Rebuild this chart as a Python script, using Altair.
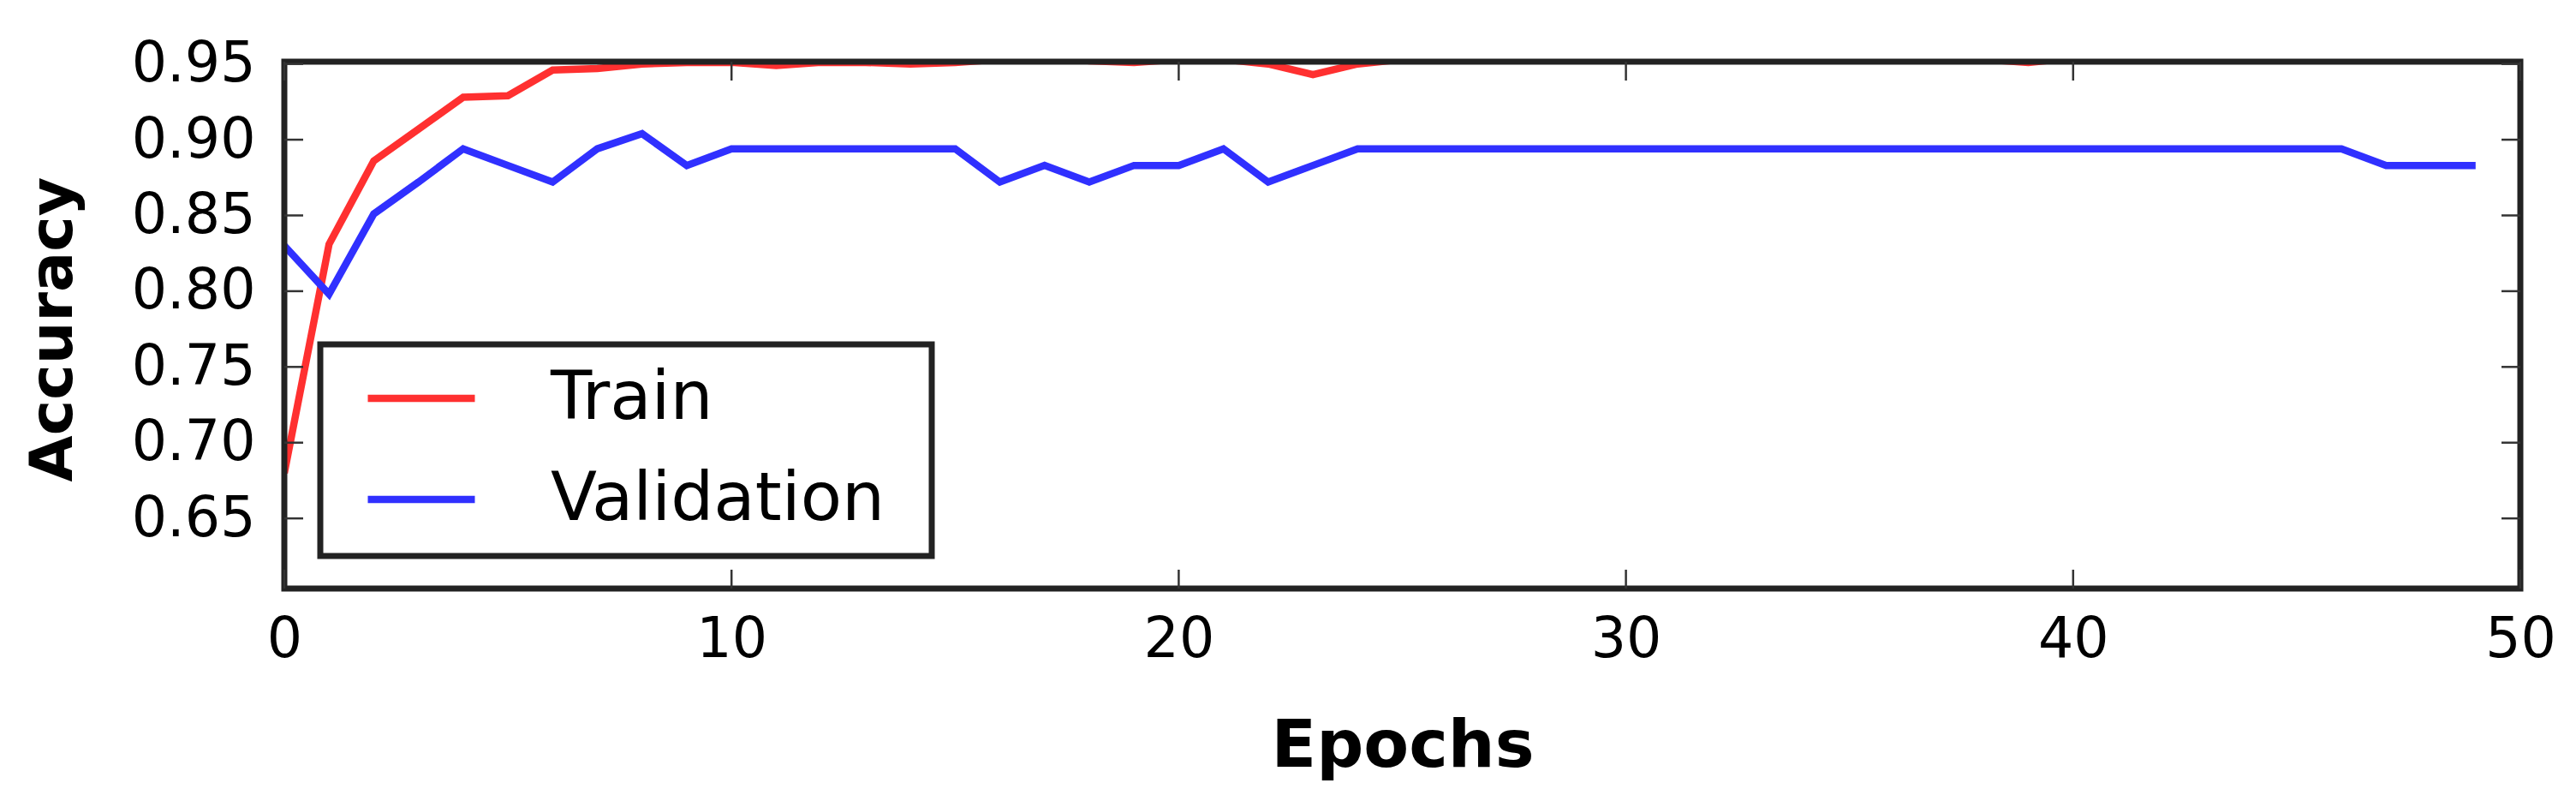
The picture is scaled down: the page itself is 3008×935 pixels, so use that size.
import altair as alt
import pandas as pd

# ---- data ----
epochs = [0, 1, 2, 3, 4, 5, 6, 7, 8, 9,
          10, 11, 12, 13, 14, 15, 16, 17, 18, 19,
          20, 21, 22, 23, 24, 25, 26, 27, 28, 29,
          30, 31, 32, 33, 34, 35, 36, 37, 38, 39,
          40, 41, 42, 43, 44, 45, 46, 47, 48, 49]
train_acc = [0.680, 0.831, 0.886, 0.907, 0.928, 0.929, 0.946, 0.947, 0.950, 0.951,
             0.951, 0.949, 0.951, 0.951, 0.950, 0.951, 0.953, 0.956, 0.952, 0.951,
             0.953, 0.953, 0.950, 0.943, 0.950, 0.953, 0.956, 0.956, 0.956, 0.956,
             0.956, 0.956, 0.956, 0.956, 0.956, 0.956, 0.956, 0.956, 0.953, 0.951,
             0.954, 0.956, 0.956, 0.956, 0.956, 0.956, 0.956, 0.956, 0.956, 0.956]
val_acc = [0.830, 0.798, 0.851, 0.872, 0.894, 0.883, 0.872, 0.894, 0.904, 0.883,
           0.894, 0.894, 0.894, 0.894, 0.894, 0.894, 0.872, 0.883, 0.872, 0.883,
           0.883, 0.894, 0.872, 0.883, 0.894, 0.894, 0.894, 0.894, 0.894, 0.894,
           0.894, 0.894, 0.894, 0.894, 0.894, 0.894, 0.894, 0.894, 0.894, 0.894,
           0.894, 0.894, 0.894, 0.894, 0.894, 0.894, 0.894, 0.883, 0.883, 0.883]
series_names = ["Train", "Validation"]
series_colors = ["#ff3030", "#3030ff"]
x_ticks = [0, 10, 20, 30, 40, 50]
y_ticks = [0.65, 0.70, 0.75, 0.80, 0.85, 0.90, 0.95]
x_domain = [0, 50]
y_domain = [0.6037, 0.9515]

# ---- layout / style ----
W, H = 2611, 615
FONT = "DejaVu Sans"
FRAME = "#222222"
TICK_LEN = 22
LEG_X0, LEG_X1, LEG_Y0, LEG_Y1 = 42, 756, 330, 577

df = pd.DataFrame({
    "epoch": epochs + epochs,
    "acc": train_acc + val_acc,
    "series": [series_names[0]] * len(epochs) + [series_names[1]] * len(epochs),
})

xs = alt.Scale(domain=x_domain, nice=False, zero=False)
ys = alt.Scale(domain=y_domain, nice=False, zero=False)

x_axis = alt.Axis(
    values=x_ticks, format="d", title="Epochs",
    labelFont=FONT, labelFontSize=65, labelPadding=28, labelFlush=False,
    labelOverlap=False, labelColor="black",
    domain=False, ticks=False, tickSize=0, grid=False,
    titleFont=FONT, titleFontSize=77, titleFontWeight="bold", titleColor="black",
    titleX=W / 2, titleY=207, titleBaseline="alphabetic", titleAlign="center")
y_axis = alt.Axis(
    values=y_ticks, format=".2f", title="Accuracy",
    labelFont=FONT, labelFontSize=65, labelPadding=34, labelOverlap=False,
    labelColor="black",
    domain=False, ticks=False, tickSize=0, grid=False,
    titleFont=FONT, titleFontSize=70, titleFontWeight="bold", titleColor="black",
    titleAngle=270, titleX=-249, titleY=312, titleBaseline="alphabetic",
    titleAlign="center")

lines = alt.Chart(df).mark_line(strokeWidth=8.5, clip=True).encode(
    x=alt.X("epoch:Q", scale=xs, axis=x_axis),
    y=alt.Y("acc:Q", scale=ys, axis=y_axis),
    color=alt.Color("series:N",
                    scale=alt.Scale(domain=series_names, range=series_colors),
                    legend=alt.Legend(
                        title=None, orient="none", legendX=LEG_X0, legendY=LEG_Y0,
                        symbolType="stroke", symbolSize=15625, symbolStrokeWidth=8.5,
                        labelFont=FONT, labelFontSize=79, labelOffset=84,
                        labelLimit=2000, labelColor="black",
                        padding=28, clipHeight=70, rowPadding=39, symbolOffset=23)),
)

legend_box = alt.Chart(pd.DataFrame({"k": [0]})).mark_rect(
    fill="white", stroke=FRAME, strokeWidth=7
).encode(x=alt.value(LEG_X0), x2=alt.value(LEG_X1),
         y=alt.value(LEG_Y0), y2=alt.value(LEG_Y1))

frame = alt.Chart(pd.DataFrame({"k": [0]})).mark_rect(
    fillOpacity=0, stroke=FRAME, strokeWidth=7
).encode(x=alt.value(0), x2=alt.value(W), y=alt.value(0), y2=alt.value(H))

xt = pd.DataFrame({"epoch": x_ticks})
yt = pd.DataFrame({"acc": y_ticks})
tick_style = dict(color="#333333", strokeWidth=2.5)

x_bottom = alt.Chart(xt).mark_rule(**tick_style).encode(
    x=alt.X("epoch:Q", scale=xs, axis=x_axis), y=alt.value(H), y2=alt.value(H - TICK_LEN))
x_top = alt.Chart(xt).mark_rule(**tick_style).encode(
    x=alt.X("epoch:Q", scale=xs, axis=x_axis), y=alt.value(0), y2=alt.value(TICK_LEN))
y_left = alt.Chart(yt).mark_rule(**tick_style).encode(
    y=alt.Y("acc:Q", scale=ys, axis=y_axis), x=alt.value(0), x2=alt.value(TICK_LEN))
y_right = alt.Chart(yt).mark_rule(**tick_style).encode(
    y=alt.Y("acc:Q", scale=ys, axis=y_axis), x=alt.value(W), x2=alt.value(W - TICK_LEN))

chart = alt.layer(lines, legend_box, frame, x_bottom, x_top, y_left, y_right).properties(
    width=W, height=H,
    padding={"left": 324, "top": 64, "right": 57, "bottom": 240},
    autosize=alt.AutoSizeParams(type="none"),
    background="white",
).configure_view(strokeWidth=0)

chart.save("out.html", embed_options={"renderer": "svg", "actions": False})
